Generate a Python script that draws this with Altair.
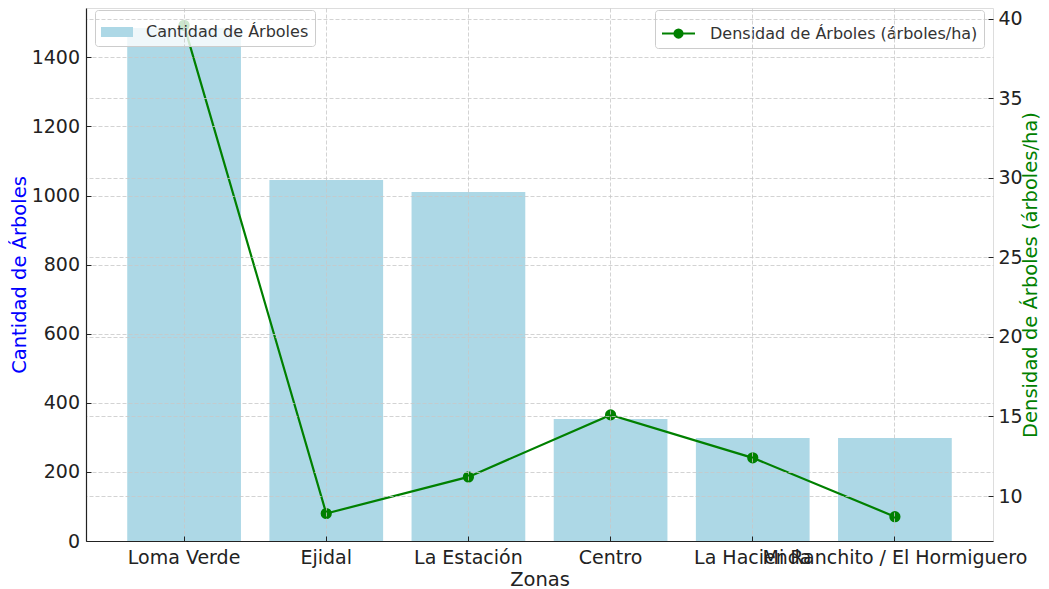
import altair as alt
import pandas as pd

zonas = ["Loma Verde", "Ejidal", "La Estación", "Centro", "La Hacienda",
         "Mi Ranchito / El Hormiguero"]
cantidad = [1485, 1045, 1010, 353, 298, 298]
densidad = [39.6, 8.9, 11.2, 15.1, 12.4, 8.7]

left_ticks = [0, 200, 400, 600, 800, 1000, 1200, 1400]
right_ticks = [10, 15, 20, 25, 30, 35, 40]

serie_barras = "Cantidad de Árboles"
serie_linea = "Densidad de Árboles (árboles/ha)"

df = pd.DataFrame({"Zona": zonas, "Cantidad": cantidad, "Densidad": densidad})

FONT = "DejaVu Sans"
TXT = "#222222"
inward = alt.ExprRef(expr="-5")
common_axis = dict(
    grid=True, gridColor="#c8c8c8", gridDash=[4, 2], gridWidth=0.8,
    tickSize=inward, tickColor=TXT, tickWidth=1,
    labelFont=FONT, labelFontSize=19, labelColor=TXT,
    titleFont=FONT, titleFontSize=19.5, titleFontWeight="normal",
    zindex=1,
)

x = alt.X(
    "Zona:N", sort=zonas,
    scale=alt.Scale(paddingInner=0.2, paddingOuter=0.29),
    axis=alt.Axis(title="Zonas", labelAngle=0, labelOverlap=False, labelLimit=1000,
                  labelPadding=12, titlePadding=3, titleColor=TXT,
                  domain=True, domainColor=TXT, domainWidth=1.2, **common_axis),
)

legend_box = dict(
    title=None, orient="none", labelFont=FONT, labelFontSize=16, labelColor="#333333",
    labelLimit=500,
    padding=6, fillColor="rgba(255,255,255,0.8)", strokeColor="#cccccc", cornerRadius=3,
)

bars = alt.Chart(df).transform_calculate(
    serie=f"'{serie_barras}'"
).mark_bar().encode(
    x=x,
    y=alt.Y("Cantidad:Q",
            scale=alt.Scale(domain=[0, 1542.7], nice=False, zero=False),
            axis=alt.Axis(orient="left", values=left_ticks, format="d",
                          title="Cantidad de Árboles",
                          titleColor="#0000ff", labelPadding=11.5,
                          titleX=-57, titleBaseline="bottom",
                          domain=True, domainColor=TXT, domainWidth=1.2, **common_axis)),
    fill=alt.Fill(
        "serie:N",
        scale=alt.Scale(domain=[serie_barras], range=["#add8e6"]),
        legend=alt.Legend(
            legendX=9, legendY=2,
            symbolType="M-1,-0.3125H1V0.3125H-1Z", symbolSize=1024,
            symbolStrokeWidth=0, labelOffset=13, **legend_box,
        ),
    ),
)

line = alt.Chart(df).transform_calculate(
    serie2=f"'{serie_linea}'"
).mark_line(
    strokeWidth=2.2,
    point=alt.OverlayMarkDef(filled=True, size=85, color="#008000"),
).encode(
    x=x,
    y=alt.Y("Densidad:Q",
            scale=alt.Scale(domain=[7.17, 40.69], nice=False, zero=False),
            axis=alt.Axis(orient="right", values=right_ticks,
                          title="Densidad de Árboles (árboles/ha)",
                          titleColor="#008000", titleAngle=270, titleBaseline="bottom",
                          titleX=47,
                          labelPadding=10,
                          domain=False, **common_axis)),
    stroke=alt.Stroke(
        "serie2:N",
        scale=alt.Scale(domain=[serie_linea], range=["#008000"]),
        legend=alt.Legend(
            legendX=569, legendY=2,
            symbolType="M-1,0H1M0.25,0A0.25,0.25 0 1,1 -0.25,0A0.25,0.25 0 1,1 0.25,0Z",
            symbolSize=1089, symbolStrokeWidth=2,
            symbolFillColor="#008000", symbolStrokeColor="#008000",
            labelOffset=14, **legend_box,
        ),
    ),
)

chart = alt.layer(bars, line).resolve_scale(y="independent").properties(
    width=907, height=533,
    autosize=alt.AutoSizeParams(type="none"),
    padding={"left": 78, "top": 0, "right": 48, "bottom": 48},
).configure_view(stroke=None).configure(background="white")

chart.save("out.html", embed_options={"renderer": "svg", "actions": False})
